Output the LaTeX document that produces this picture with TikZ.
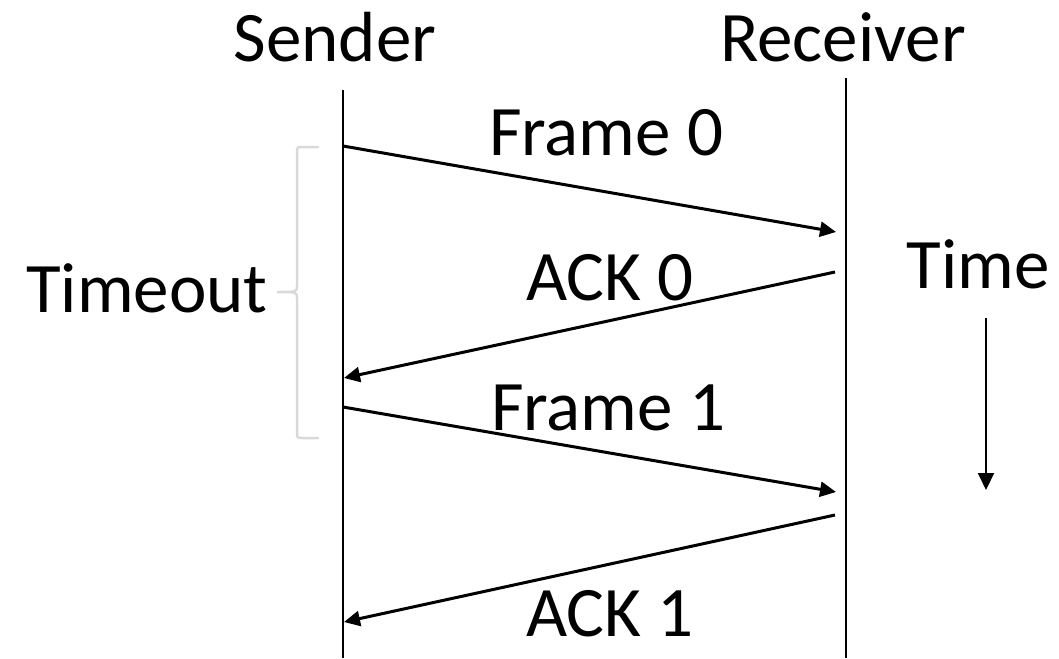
\documentclass[tikz,border=0pt]{standalone}
\usepackage{fontspec}
\setmainfont{Carlito}
\usetikzlibrary{arrows.meta,decorations.pathreplacing}
\begin{document}
\begin{tikzpicture}[x=1pt,y=-1pt,
  lbl/.style={anchor=base,inner sep=0pt,font=\fontsize{71}{82}\selectfont},
  life/.style={line width=2pt},
  msg/.style={line width=3pt,-{Triangle[length=16pt,width=15pt]}},
  ]
\useasboundingbox (0,0) rectangle (1059,658);
% lifelines
\coordinate (s0) at (343,90);
\coordinate (s1) at (343,658);
\coordinate (r0) at (846,78);
\coordinate (r1) at (846,658);
\draw[life] (s0) -- (s1);
\draw[life] (r0) -- (r1);
% labels
\node[lbl] (snd) at (335,62) {Sender};
\node[lbl] (rcv) at (843,62) {Receiver};
\node[lbl] (f0) at (606,155) {Frame 0};
\node[lbl] (a0) at (610,300) {ACK 0};
\node[lbl] (f1) at (608,430) {Frame 1};
\node[lbl] (a1) at (610,636) {ACK 1};
\node[lbl] (to) at (147,312) {Timeout};
\node[lbl] (tm) at (978,288) {Time};
% messages
\coordinate (m1a) at (343,146);
\coordinate (m1b) at (836,232);
\coordinate (m2a) at (835,272);
\coordinate (m2b) at (344,378);
\coordinate (m3a) at (343,407);
\coordinate (m3b) at (836,492);
\coordinate (m4a) at (835,515);
\coordinate (m4b) at (344,622);
\draw[msg] (m1a) -- (m1b);
\draw[msg] (m2a) -- (m2b);
\draw[msg] (m3a) -- (m3b);
\draw[msg] (m4a) -- (m4b);
% time arrow
\coordinate (t0) at (986,318);
\coordinate (t1) at (986,490);
\draw[line width=2pt,-{Triangle[length=17pt,width=16pt]}] (t0) -- (t1);
% brace
\coordinate (b0) at (318,147);
\coordinate (b1) at (318,438);
\draw[line width=2.5pt,color=black!15,line cap=round] (b0) -- (303,147) .. controls (297,147) .. (297,153) -- (297,286) .. controls (297,292) .. (277,292) .. controls (297,292) .. (297,298) -- (297,432) .. controls (297,438) .. (303,438) -- (b1);
\end{tikzpicture}
\end{document}
